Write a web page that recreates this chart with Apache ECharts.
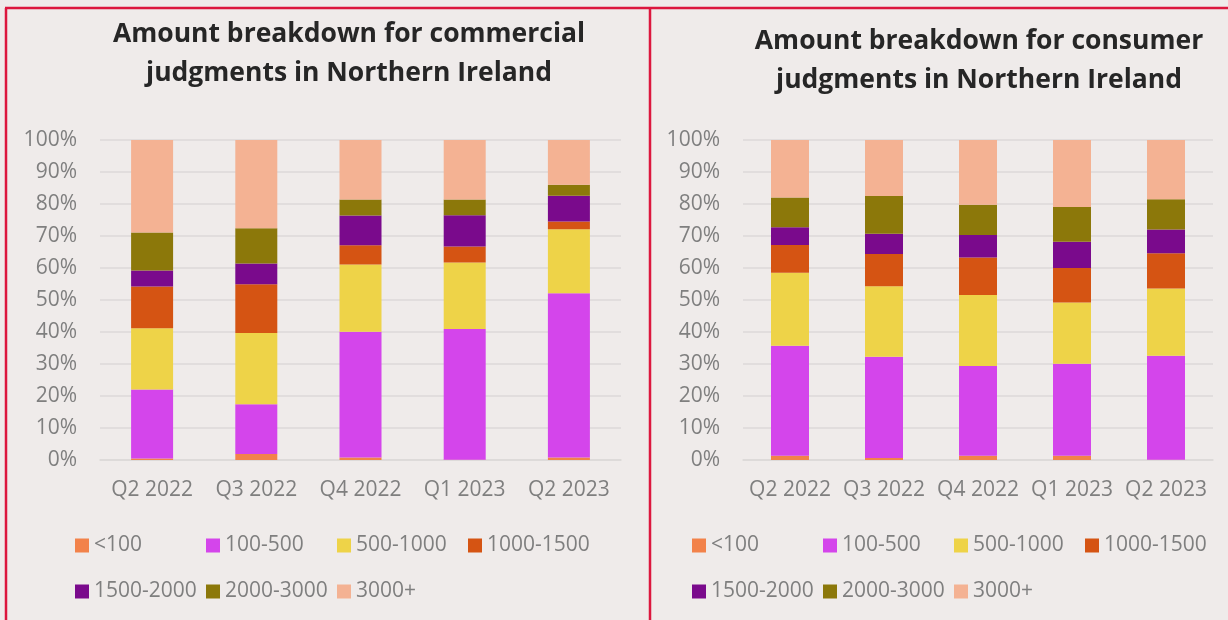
<!DOCTYPE html>
<html>
<head>
<meta charset="utf-8">
<script src="https://cdn.jsdelivr.net/npm/echarts@6/dist/echarts.min.js"></script>
<style>
  html, body { margin: 0; padding: 0; background: #efebea; }
  #main { width: 1228px; height: 620px; }
</style>
</head>
<body>
<div id="main"></div>
<script>
// categories + bands
let quarters = ['Q2 2022', 'Q3 2022', 'Q4 2022', 'Q1 2023', 'Q2 2023'];
let bands = ['<100', '100-500', '500-1000', '1000-1500', '1500-2000', '2000-3000', '3000+'];
let yTicks = [0, 10, 20, 30, 40, 50, 60, 70, 80, 90, 100];

// commercial judgments (%)
let comUnder100 = [0.5, 1.9, 0.8, 0.1, 0.8];
let com100to500 = [21.5, 15.5, 39.3, 40.8, 51.3];
let com500to1000 = [19.2, 22.3, 21.0, 20.8, 20.0];
let com1000to1500 = [13.0, 15.2, 6.0, 5.0, 2.4];
let com1500to2000 = [5.0, 6.5, 9.3, 9.8, 8.1];
let com2000to3000 = [11.9, 11.0, 5.0, 4.9, 3.4];
let com3000plus = [28.9, 27.6, 18.6, 18.6, 14.0];

// consumer judgments (%)
let conUnder100 = [1.3, 0.6, 1.3, 1.3, 0.1];
let con100to500 = [34.4, 31.7, 28.1, 28.8, 32.5];
let con500to1000 = [22.8, 22.0, 22.2, 19.1, 21.0];
let con1000to1500 = [8.7, 10.1, 11.7, 10.8, 11.0];
let con1500to2000 = [5.5, 6.3, 7.0, 8.2, 7.4];
let con2000to3000 = [9.3, 11.8, 9.5, 10.9, 9.5];
let con3000plus = [18.0, 17.5, 20.2, 20.9, 18.5];

let colors = ['#f2824a', '#d445eb', '#eed348', '#d55413', '#7a0a8c', '#8c780a', '#f4b293'];

let comData = [comUnder100, com100to500, com500to1000, com1000to1500, com1500to2000, com2000to3000, com3000plus];
let conData = [conUnder100, con100to500, con500to1000, con1000to1500, con1500to2000, con2000to3000, con3000plus];

let labelFont = 'Open Sans';
let gray = '#7f7f7f';
let gridColor = '#dcd9d8';
let red = '#dc173e';

function makeXAxis(idx) {
    return {
        type: 'category',
        gridIndex: idx,
        data: quarters,
        axisTick: {show: false},
        axisLine: {lineStyle: {color: gridColor, width: 1.5}},
        axisLabel: {color: gray, fontSize: 21, fontFamily: labelFont, margin: 20, interval: 0}
    };
}

function makeYAxis(idx) {
    return {
        type: 'value',
        gridIndex: idx,
        min: yTicks[0],
        max: yTicks[yTicks.length - 1],
        interval: 10,
        axisLine: {show: false},
        axisTick: {show: false},
        splitLine: {lineStyle: {color: gridColor, width: 1.5}},
        axisLabel: {color: gray, fontSize: 21, fontFamily: labelFont, margin: 23, formatter: '{value}%'}
    };
}

// one legend per item so the columns line up like Excel's (4 per row)
function makeLegends(baseLeft) {
    let arr = [];
    for (let i = 0; i < bands.length; i++) {
        arr.push({
            left: baseLeft + (i % 4) * 131,
            top: i < 4 ? 535 : 581,
            icon: 'rect',
            itemWidth: 14,
            itemHeight: 14,
            padding: 0,
            selectedMode: false,
            data: [bands[i]],
            textStyle: {color: gray, fontSize: 21, fontFamily: labelFont}
        });
    }
    return arr;
}

let series = [];
for (let i = 0; i < bands.length; i++) {
    series.push({
        name: bands[i],
        type: 'bar',
        stack: 'commercial',
        xAxisIndex: 0,
        yAxisIndex: 0,
        barWidth: 42,
        itemStyle: {color: colors[i]},
        data: comData[i]
    });
    series.push({
        name: bands[i],
        type: 'bar',
        stack: 'consumer',
        xAxisIndex: 1,
        yAxisIndex: 1,
        barWidth: 38,
        itemStyle: {color: colors[i]},
        data: conData[i]
    });
}

let myChart = echarts.init(document.getElementById('main'));
let option = {
    backgroundColor: '#efebea',
    animation: false,
    title: [
        {
            text: 'Amount breakdown for commercial\njudgments in Northern Ireland',
            left: 349, top: 15, padding: 0,
            textAlign: 'center',
            textStyle: {color: '#262626', fontSize: 26.5, fontWeight: 'bold', fontFamily: labelFont, lineHeight: 39}
        },
        {
            text: 'Amount breakdown for consumer\njudgments in Northern Ireland',
            left: 979, top: 22, padding: 0,
            textAlign: 'center',
            textStyle: {color: '#262626', fontSize: 26.5, fontWeight: 'bold', fontFamily: labelFont, lineHeight: 39}
        }
    ],
    grid: [
        {left: 100, top: 140, width: 521, height: 320},
        {left: 743, top: 140, width: 470, height: 320}
    ],
    xAxis: [makeXAxis(0), makeXAxis(1)],
    yAxis: [makeYAxis(0), makeYAxis(1)],
    legend: makeLegends(75).concat(makeLegends(692)),
    // panel borders
    graphic: [
        {type: 'line', shape: {x1: 5, y1: 8, x2: 1228, y2: 8}, style: {stroke: red, lineWidth: 2.5}},
        {type: 'line', shape: {x1: 6, y1: 8, x2: 6, y2: 620}, style: {stroke: red, lineWidth: 2.5}},
        {type: 'line', shape: {x1: 650, y1: 8, x2: 650, y2: 620}, style: {stroke: red, lineWidth: 2.5}}
    ],
    series: series
};
myChart.setOption(option);
</script>
</body>
</html>
